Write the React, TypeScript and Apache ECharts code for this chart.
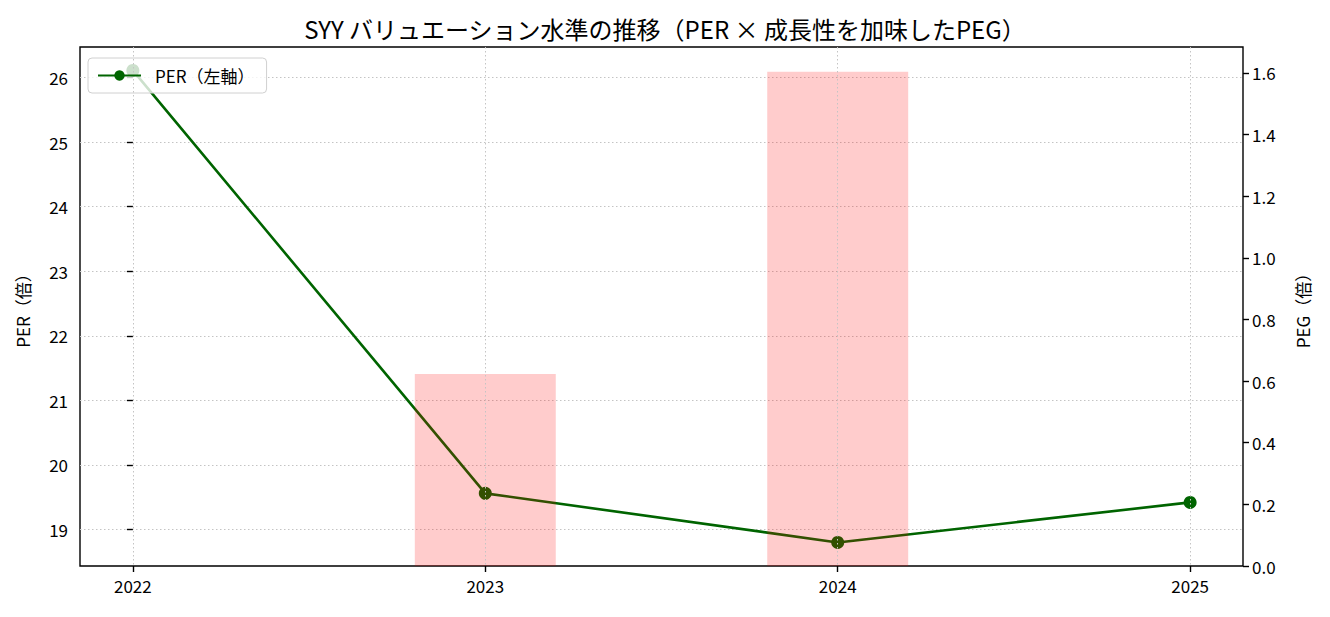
import React, { useEffect, useRef } from "react";
import * as echarts from "echarts";

const YEARS = ["2022", "2023", "2024", "2025"];
const PER = [26.11, 19.56, 18.8, 19.42];
const PEG: (number | null)[] = [null, 0.623, 1.604, null];
const PER_TICKS = [19, 20, 21, 22, 23, 24, 25, 26];
const PEG_TICKS = [0, 0.2, 0.4, 0.6, 0.8, 1.0, 1.2, 1.4, 1.6];
const X_TICKS = [0, 1, 2, 3];

const TITLE = "SYY バリュエーション水準の推移（PER × 成長性を加味したPEG）";
const LINE_NAME = "PER（左軸）";
const BAR_NAME = "PEG（右軸）";

const FONT = "'Noto Sans CJK JP', 'Noto Sans', sans-serif";

export default function App() {
  const ref = useRef<HTMLDivElement>(null);
  useEffect(() => {
    document.body.style.margin = "0";
    if (!ref.current) return;
    const chart = echarts.init(ref.current, undefined, { renderer: "svg" });
    const gridLeft = 80;
    const gridRight = 87;
    const plotW = 1330 - gridLeft - gridRight;
    const xMin = -0.15;
    const xMax = 3.15;
    const barW = (0.4 * plotW) / (xMax - xMin);
    const tickStyle = { color: "#000", fontSize: 17, fontFamily: FONT };
    const gridLine = { color: "#c4c4c4", type: [1.5, 2.5], width: 1 };
    const tickLine = { color: "#000", width: 1.4 };
    chart.setOption({
      animation: false,
      backgroundColor: "#fff",
      textStyle: { fontFamily: FONT, color: "#000" },
      title: {
        text: TITLE,
        left: "center",
        top: 11,
        textStyle: { fontSize: 24, fontWeight: "normal", color: "#000", fontFamily: FONT },
      },
      legend: {
        data: [LINE_NAME],
        left: 88,
        top: 58,
        orient: "vertical",
        itemWidth: 43,
        itemHeight: 13,
        padding: [9, 12, 9, 9],
        backgroundColor: "rgba(255,255,255,0.8)",
        borderColor: "#d0d0d0",
        borderWidth: 1,
        borderRadius: 4,
        textStyle: { fontSize: 17, color: "#000", fontFamily: FONT, padding: [0, 0, 0, 9] },
      },
      grid: {
        left: gridLeft,
        right: gridRight,
        top: 47,
        bottom: 51,
        show: true,
        borderColor: "#000",
        borderWidth: 1.4,
        backgroundColor: "transparent",
      },
      xAxis: {
        type: "value",
        min: xMin,
        max: xMax,
        z: 4,
        axisLine: { show: false },
        axisTick: { show: true, length: 6, lineStyle: tickLine, customValues: X_TICKS },
        axisLabel: {
          ...tickStyle,
          margin: 11,
          customValues: X_TICKS,
          formatter: (v: number) => YEARS[Math.round(v)] ?? "",
        },
        splitLine: { show: true, lineStyle: gridLine },
      },
      yAxis: [
        {
          type: "value",
          min: 18.435,
          max: 26.473,
          name: "PER（倍）",
          nameLocation: "middle",
          nameRotate: 90,
          nameGap: 49,
          nameTextStyle: { fontSize: 17, color: "#000", fontFamily: FONT },
          axisLine: { show: false },
          axisTick: { show: true, length: 6, lineStyle: tickLine, customValues: PER_TICKS },
          axisLabel: { ...tickStyle, margin: 12, customValues: PER_TICKS, formatter: (v: number) => String(Math.round(v)) },
          splitLine: { show: true, lineStyle: gridLine },
        },
        {
          type: "value",
          min: 0,
          max: 1.684,
          position: "right",
          name: "PEG（倍）",
          nameLocation: "middle",
          nameRotate: 90,
          nameGap: 51,
          nameTextStyle: { fontSize: 17, color: "#000", fontFamily: FONT },
          axisLine: { show: false },
          axisTick: { show: true, length: 6, lineStyle: tickLine, customValues: PEG_TICKS },
          axisLabel: { ...tickStyle, margin: 9, customValues: PEG_TICKS, formatter: (v: number) => v.toFixed(1) },
          splitLine: { show: false },
        },
      ],
      series: [
        {
          name: LINE_NAME,
          type: "line",
          yAxisIndex: 0,
          z: 2,
          data: PER.map((v, i) => [i, v]),
          symbol: "circle",
          symbolSize: 13,
          lineStyle: { color: "#006400", width: 2.6 },
          itemStyle: { color: "#006400" },
        },
        {
          name: BAR_NAME,
          type: "bar",
          yAxisIndex: 1,
          z: 3,
          barWidth: barW,
          data: PEG.map((v, i) => [i, v]).filter((d) => d[1] !== null),
          itemStyle: { color: "rgba(255,0,0,0.2)" },
        },
      ],
    });
    return () => chart.dispose();
  }, []);
  return <div ref={ref} style={{ width: 1330, height: 617 }} />;
}
